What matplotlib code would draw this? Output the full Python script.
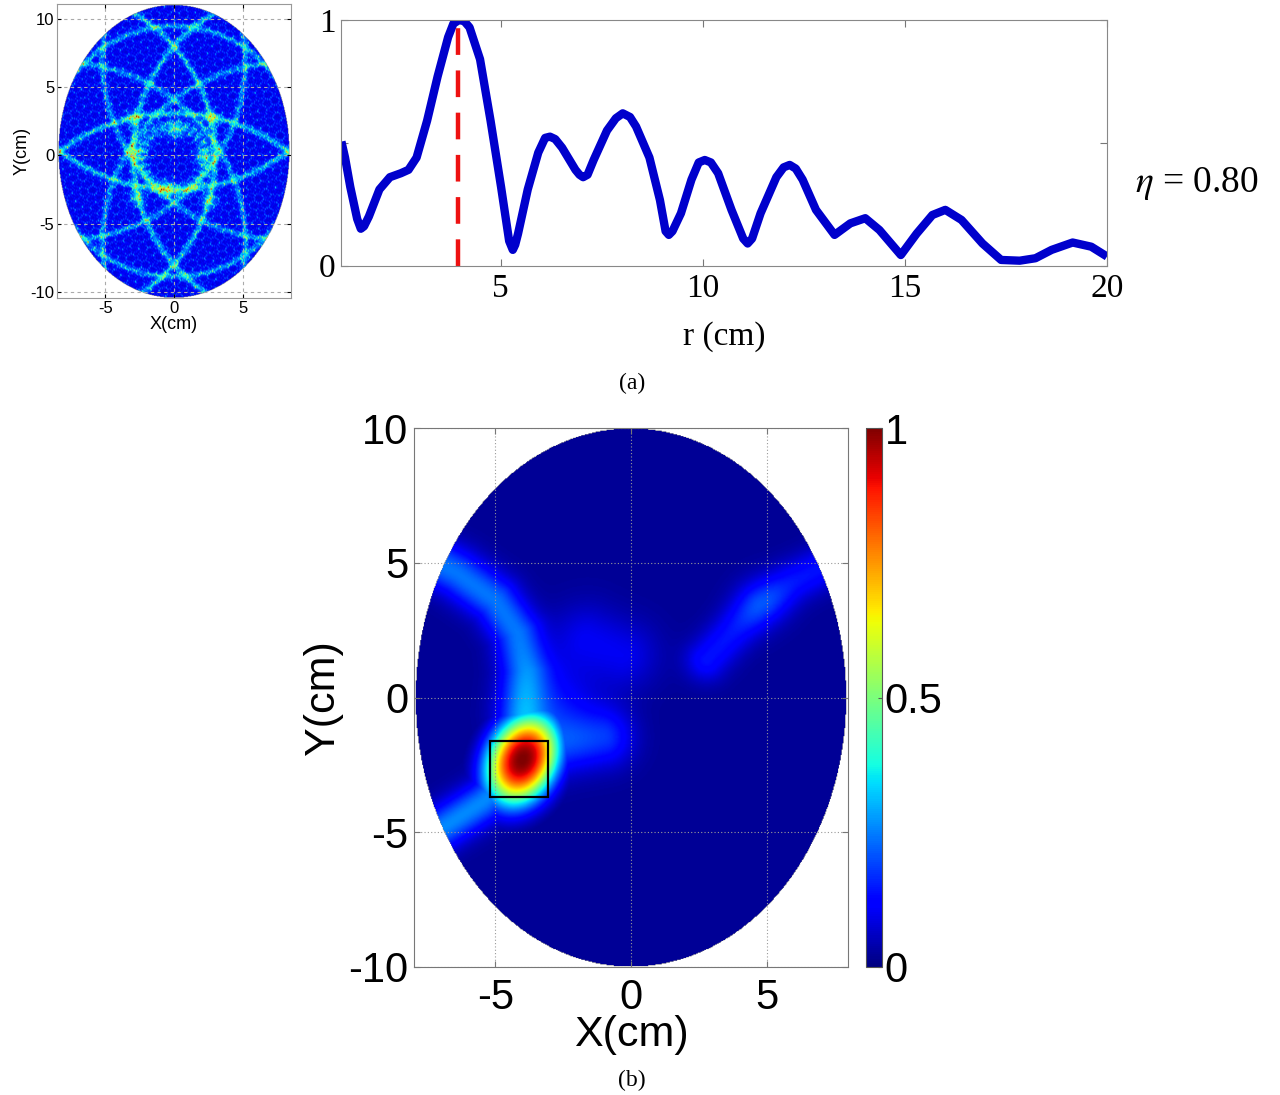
import numpy as np
import matplotlib.pyplot as plt
from matplotlib.patches import Rectangle

plt.rcParams['axes.unicode_minus'] = False
plt.rcParams['mathtext.fontset'] = 'stix'

SANS = 'Liberation Sans'
SERIF = 'Liberation Serif'

# ---------------- (a) right: normalised intensity along r ----------------
r_cm = [1.06, 1.15, 1.28, 1.45, 1.54, 1.62, 1.74, 2.0, 2.26, 2.53, 2.72, 2.92,
        3.18, 3.44, 3.7, 3.83, 3.97, 4.1, 4.23, 4.49, 4.75, 5.01, 5.21, 5.30,
        5.36, 5.43, 5.67, 5.93, 6.1, 6.22, 6.35, 6.52, 6.85, 6.95, 7.04, 7.15,
        7.30, 7.63, 7.85, 8.02, 8.2, 8.35, 8.68, 8.94, 9.08, 9.16, 9.25, 9.46,
        9.72, 9.9, 10.05, 10.2, 10.38, 10.71, 11.0, 11.11, 11.22, 11.43, 11.82,
        12.0, 12.15, 12.3, 12.47, 12.8, 13.26, 13.65, 14.02, 14.37, 14.9, 15.29,
        15.68, 16.0, 16.4, 16.92, 17.38, 17.84, 18.23, 18.63, 19.15, 19.61, 20.0]
profile = [0.505, 0.44, 0.32, 0.19, 0.15, 0.16, 0.2, 0.31, 0.36, 0.376, 0.39,
           0.44, 0.59, 0.77, 0.93, 0.985, 1.0, 0.995, 0.97, 0.84, 0.59, 0.32,
           0.10, 0.064, 0.085, 0.13, 0.31, 0.46, 0.52, 0.525, 0.515, 0.48, 0.39,
           0.37, 0.36, 0.37, 0.43, 0.55, 0.6, 0.62, 0.605, 0.566, 0.44, 0.267,
           0.14, 0.125, 0.14, 0.213, 0.35, 0.42, 0.43, 0.42, 0.376, 0.227, 0.11,
           0.09, 0.11, 0.213, 0.36, 0.4, 0.41, 0.395, 0.35, 0.227, 0.125, 0.172,
           0.193, 0.145, 0.043, 0.13, 0.206, 0.227, 0.186, 0.09, 0.023, 0.02,
           0.03, 0.064, 0.094, 0.077, 0.037]
r_peak = 3.95
eta_label = r'$\eta$ = 0.80'

# ---------------- (a) left: ring image ----------------
tl_base = 0.12
# circles (centre x, centre y, radius, amplitude)
ring_cx = [9.2, -9.2, 0.0, 0.0, 0.0, -8.0, 8.0, 8.0, -8.0]
ring_cy = [0.0, 0.0, 11.2, -10.6, 0.3, 7.0, -6.4, 7.0, -6.4]
ring_r = [12.2, 12.2, 13.7, 13.7, 9.2, 13.2, 13.2, 13.2, 13.2]
ring_amp = [0.2, 0.2, 0.2, 0.2, 0.16, 0.16, 0.16, 0.16, 0.16]
ring_w = 0.16
inner_ring = (0.0, -0.2, 2.4, 0.2)   # cx, cy, radius, amplitude
inner_fringes = 26
spot_x = [-3.0, 2.8, -2.8, 2.1, -2.7, 2.6, -0.5, 0.1]
spot_y = [2.7, 2.7, 0.2, -0.1, -3.1, -3.3, -2.4, 1.8]
spot_amp = 0.2
tl_domain = (0.0, 0.3, 8.4, 10.75)   # ellipse cx, cy, a, b
# speckle texture: fixed plane waves (wavenumber, directions in deg, phases)
speckle_k = 24.0
speckle_dir = [7, 31, 58, 83, 112, 139, 167, 197]
speckle_phase = [0.3, 1.9, 4.1, 2.7, 5.5, 0.9, 3.6, 2.2]

# ---------------- (b): focused image ----------------
bt_base = 0.02
band_paths = [
    [(-7.9, 5.4), (-6.4, 4.6), (-5.0, 3.6), (-4.2, 2.4), (-3.9, 1.0), (-4.0, -0.6)],
    [(-4.3, -2.9), (-5.5, -3.9), (-6.9, -4.8), (-7.8, -5.3)],
    [(-3.4, -2.0), (-2.2, -1.7), (-1.0, -1.5)],
    [(-1.6, 2.2), (-0.3, 1.6)],
    [(2.8, 1.4), (4.0, 2.7), (4.7, 3.4), (6.0, 4.3), (7.6, 5.1)],
]
band_amp = [0.22, 0.24, 0.15, 0.08, 0.12]
band_sigma = [0.62, 0.55, 0.75, 0.9, 0.55]
blob_x = [-2.8, 4.8]
blob_y = [-0.3, 3.5]
blob_amp = [0.1, 0.07]
blob_sigma = [1.1, 0.7]
hot_x, hot_y = -4.0, -2.3
hot_axes = (1.7, 1.22)      # along / across major axis
hot_angle = 66.0            # degrees from the x axis
hot_power = 1.2
box_x, box_y, box_w, box_h = -5.2, -3.7, 2.15, 2.1
bt_domain = (0.0, 0.0, 7.95, 10.0)


def dist_to_path(X, Y, pts):
    d = np.full(X.shape, np.inf)
    for (xa, ya), (xb, yb) in zip(pts[:-1], pts[1:]):
        dx, dy = xb - xa, yb - ya
        t = np.clip(((X - xa) * dx + (Y - ya) * dy) / (dx * dx + dy * dy), 0, 1)
        d = np.minimum(d, np.hypot(X - xa - t * dx, Y - ya - t * dy))
    return d


def inside(X, Y, dom):
    cx, cy, a, b = dom
    return ((X - cx) / a) ** 2 + ((Y - cy) / b) ** 2 <= 1


fig = plt.figure(figsize=(12.8, 10.95), dpi=100)
W, H = 1280.0, 1095.0


def add_ax(x0, y0, x1, y1):
    return fig.add_axes([x0 / W, 1 - y1 / H, (x1 - x0) / W, (y1 - y0) / H])


# ---- top-left image ----
ax1 = add_ax(57, 4, 291, 298)
x1 = np.linspace(-8.5, 8.5, 420)
y1 = np.linspace(-10.45, 11.1, 530)
X1, Y1 = np.meshgrid(x1, y1)
field = np.zeros(X1.shape, dtype=complex)
for a_deg, ph in zip(speckle_dir, speckle_phase):
    a = np.deg2rad(a_deg)
    field += np.exp(1j * (speckle_k * (X1 * np.cos(a) + Y1 * np.sin(a)) + ph))
S = np.abs(field) ** 2 / len(speckle_dir)
rings = np.zeros(X1.shape)
for cx, cy, rr, am in zip(ring_cx, ring_cy, ring_r, ring_amp):
    d = np.hypot(X1 - cx, Y1 - cy) - rr
    rings += am * np.exp(-d ** 2 / (2 * ring_w ** 2))
icx, icy, ir, iam = inner_ring
th = np.arctan2(Y1 - icy, X1 - icx)
d = np.hypot(X1 - icx, Y1 - icy) - ir
rings += iam * np.exp(-d ** 2 / (2 * 0.35 ** 2)) * (0.4 + 0.6 * np.cos(inner_fringes * th / 2) ** 2)
for sx, sy in zip(spot_x, spot_y):
    rings += spot_amp * np.exp(-((X1 - sx) ** 2 + (Y1 - sy) ** 2) / (2 * 0.4 ** 2))
F1 = tl_base + 0.045 * (S - 1) + rings * (0.75 + 0.25 * S)
F1 = np.clip(F1, 0, 1)
F1 = np.ma.masked_where(~inside(X1, Y1, tl_domain), F1)
ax1.imshow(F1, extent=[-8.5, 8.5, -10.45, 11.1], origin='lower', cmap='jet',
           vmin=0, vmax=1, interpolation='bilinear', aspect='auto', zorder=1)
ax1.set_xlim(-8.5, 8.5)
ax1.set_ylim(-10.45, 11.1)
ax1.set_xticks([-5, 0, 5])
ax1.set_yticks([-10, -5, 0, 5, 10])
ax1.grid(True, ls=(0, (3, 3)), color='#aaaaaa', lw=0.8)
ax1.tick_params(direction='in', length=3, labelsize=12, pad=2, top=True, right=True)
for t in ax1.get_xticklabels() + ax1.get_yticklabels():
    t.set_family(SANS)
ax1.set_xlabel('X(cm)', family=SANS, fontsize=13, labelpad=0)
ax1.set_ylabel('Y(cm)', family=SANS, fontsize=13, labelpad=0)
for s in ax1.spines.values():
    s.set_color('#999999')

# ---- top-right profile ----
ax2 = add_ax(341, 20, 1107, 265.6)
ax2.plot(r_cm, profile, color='#0000cc', lw=6, solid_joinstyle='round', solid_capstyle='butt')
ax2.plot([r_peak, r_peak], [0, 1], color='#ee1111', lw=3.2, ls=(0, (6, 3.5)))
ax2.set_xlim(1.05, 20)
ax2.set_ylim(0, 1)
ax2.set_xticks([5, 10, 15, 20])
ax2.set_yticks([0, 0.5, 1])
ax2.set_yticklabels(['0', '', '1'])
ax2.tick_params(direction='in', length=5, labelsize=24, top=True, right=True, color='#777777')
ax2.tick_params(axis='x', pad=6)
ax2.tick_params(axis='y', pad=4)
for t in ax2.get_xticklabels() + ax2.get_yticklabels():
    t.set_family(SERIF)
ax2.set_xlabel('r (cm)', family=SERIF, fontsize=24, labelpad=12)
for s in ax2.spines.values():
    s.set_color('#888888')

fig.text(1197 / W, 1 - 183 / H, eta_label, family=SERIF, fontsize=27, ha='center', va='center')
fig.text(632 / W, 1 - 383 / H, '(a)', family=SERIF, fontsize=17, ha='center', va='center')

# ---- bottom focused image ----
ax3 = add_ax(414, 428, 848, 967)
x3 = np.linspace(-8, 8, 480)
y3 = np.linspace(-10, 10, 600)
X3, Y3 = np.meshgrid(x3, y3)
F3 = np.full(X3.shape, bt_base)
for pts, am, sg in zip(band_paths, band_amp, band_sigma):
    d = dist_to_path(X3, Y3, pts)
    F3 += am * np.exp(-d ** 2 / (2 * sg ** 2))
for bx, by, am, sg in zip(blob_x, blob_y, blob_amp, blob_sigma):
    F3 += am * np.exp(-((X3 - bx) ** 2 + (Y3 - by) ** 2) / (2 * sg ** 2))
ang = np.deg2rad(hot_angle)
u = (X3 - hot_x) * np.cos(ang) + (Y3 - hot_y) * np.sin(ang)
v = -(X3 - hot_x) * np.sin(ang) + (Y3 - hot_y) * np.cos(ang)
rho2 = (u / hot_axes[0]) ** 2 + (v / hot_axes[1]) ** 2
F3 = np.maximum(F3, np.exp(-rho2 ** hot_power))
F3 = np.clip(F3, 0, 1)
F3 = np.ma.masked_where(~inside(X3, Y3, bt_domain), F3)
im = ax3.imshow(F3, extent=[-8, 8, -10, 10], origin='lower', cmap='jet',
                vmin=0, vmax=1, interpolation='bilinear', aspect='auto', zorder=1)
ax3.add_patch(Rectangle((box_x, box_y), box_w, box_h, fill=False, ec='black', lw=1.6, zorder=3))
ax3.set_xlim(-8, 8)
ax3.set_ylim(-10, 10)
ax3.set_xticks([-5, 0, 5])
ax3.set_yticks([-10, -5, 0, 5, 10])
ax3.grid(True, ls=(0, (1, 2)), color='#999999', lw=0.8)
ax3.tick_params(direction='in', length=4, labelsize=30, top=True, right=True, color='#777777')
ax3.tick_params(axis='x', pad=8)
ax3.tick_params(axis='y', pad=4)
for t in ax3.get_xticklabels() + ax3.get_yticklabels():
    t.set_family(SANS)
ax3.set_xlabel('X(cm)', family=SANS, fontsize=31, labelpad=-2)
ax3.set_ylabel('Y(cm)', family=SANS, fontsize=31, labelpad=4)
for s in ax3.spines.values():
    s.set_color('#777777')

cax = add_ax(866, 428, 882, 967)
cb = fig.colorbar(im, cax=cax, ticks=[0, 0.5, 1])
cb.ax.set_yticklabels(['0', '0.5', '1'])
cb.ax.tick_params(direction='in', length=3, labelsize=30, pad=2, color='#555555')
for t in cb.ax.get_yticklabels():
    t.set_family(SANS)
cb.outline.set_edgecolor('#555555')
cb.outline.set_linewidth(0.8)

fig.text(632 / W, 1 - 1080 / H, '(b)', family=SERIF, fontsize=17, ha='center', va='center')

fig.savefig('out.png', dpi=100)
